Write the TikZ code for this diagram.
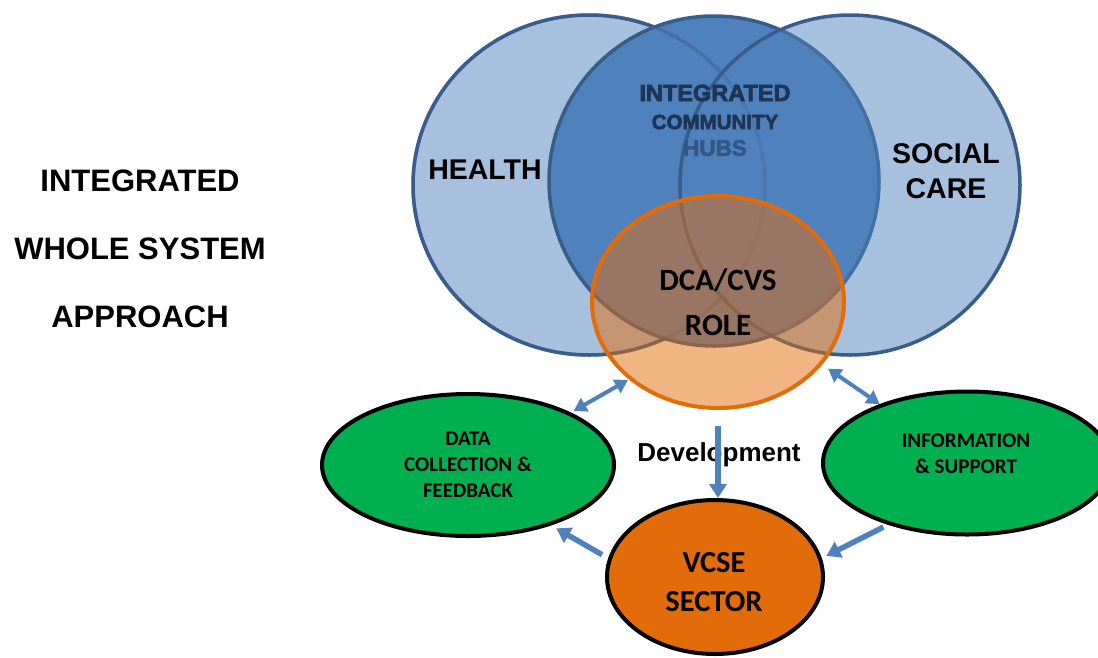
\documentclass[tikz,border=0pt]{standalone}
\usepackage{fontspec}
\setmainfont{Liberation Sans}
\newfontfamily\calfont{Carlito}
\newfontfamily\blackfont{Liberation Sans}[BoldFeatures={FakeBold=3}]
\usetikzlibrary{arrows.meta,shapes.geometric}

\definecolor{hubblue}{HTML}{4F81BD}
\definecolor{ringblue}{HTML}{385D8A}
\definecolor{hubtext}{HTML}{1F3557}
\definecolor{hubtextlt}{HTML}{345886}
\definecolor{cvsorange}{HTML}{E36C0A}
\definecolor{vcsegreen}{HTML}{00B050}

\begin{document}
\begin{tikzpicture}[
  x=1pt, y=-1pt,
  ring/.style={ellipse, inner sep=0pt, line width=3.5pt, draw=ringblue},
  blob/.style={ellipse, inner sep=0pt, line width=4pt, draw=black, align=center},
  headtxt/.style={font=\bfseries\fontsize{31}{68}\selectfont, align=center},
  sectortxt/.style={font=\bfseries\fontsize{28.5}{35}\selectfont, align=center},
  hubtxt/.style={inner sep=0pt},
  smalltxt/.style={font=\calfont\bfseries\fontsize{21}{26}\selectfont, align=center},
  arr/.style={-{Triangle[length=14pt,width=17pt]}, line width=5.5pt, draw=hubblue},
  dblarr/.style={{Triangle[length=13pt,width=15pt]}-{Triangle[length=13pt,width=15pt]},
    line width=4pt, draw=hubblue}
]
\useasboundingbox (0,0) rectangle (1098,657);
\clip (0,0) rectangle (1098,657);

% left heading
\node[headtxt] (approach) at (140,249) {INTEGRATED\\WHOLE SYSTEM\\APPROACH};

% the three overlapping circles
\node[ring, fill=hubblue!50, minimum width=352pt, minimum height=340pt] (health) at (589,185) {};
\node[ring, fill=hubblue, minimum size=330pt] (hubs) at (714,181) {};
\node[ring, fill=none, draw opacity=.45, minimum width=352pt, minimum height=340pt] (healthrim) at (589,185) {};
\node[ring, fill=hubblue, fill opacity=.5, minimum size=340pt] (social) at (850,185) {};

\node[hubtxt, text=hubtext, font=\blackfont\bfseries\fontsize{23.5}{26}\selectfont] (hubsa) at (715,93) {INTEGRATED};
\node[hubtxt, text=hubtext, font=\blackfont\bfseries\fontsize{20.5}{22}\selectfont] (hubsb) at (715,122) {COMMUNITY};
\node[hubtxt, text=hubtextlt, font=\blackfont\bfseries\fontsize{22.5}{24}\selectfont] (hubsc) at (715,148) {HUBS};

\node[sectortxt] (healthlbl) at (485,170) {HEALTH};
\node[sectortxt] (sociallbl) at (946,171) {SOCIAL\\CARE};

% central role
\node[ellipse, inner sep=0pt, fill=cvsorange, fill opacity=.5, text opacity=1,
  draw=cvsorange, line width=4pt, minimum width=252pt, minimum height=212pt,
  font=\calfont\bfseries\fontsize{31}{45}\selectfont, align=center] (role) at (718,302) {DCA/CVS\\ROLE};

% outer ring of partners
\node[blob, fill=vcsegreen, smalltxt, minimum width=292pt, minimum height=142pt] (data) at (468,465) {DATA\\COLLECTION \&\\FEEDBACK};
\node[blob, fill=vcsegreen, minimum width=288pt, minimum height=143pt] (info) at (967,463) {};
\node[smalltxt] (infolbl) at (966,454) {INFORMATION\\\& SUPPORT};
\node[blob, fill=cvsorange, minimum width=216pt, minimum height=154pt] (vcse) at (715,577) {};
\node[font=\calfont\bfseries\fontsize{30.5}{39}\selectfont, align=center] (vcselbl) at (714,582) {VCSE\\SECTOR};

\node[font=\bfseries\fontsize{26}{30}\selectfont] (dev) at (719,455) {Development};

% connectors
\draw[dblarr, shorten <=3pt, shorten >=1pt] (data.27) -- (role.221);
\draw[dblarr, shorten <=7pt] (role.-31) -- (info.146);
\draw[arr, shorten <=16pt] (role.south) -- (role.south |- vcse.north);
\draw[arr, shorten <=7pt, shorten >=6pt] (vcse.170) -- (data.-36);
\draw[arr, shorten <=5pt, shorten >=5pt] (info.218) -- (vcse.10);
\end{tikzpicture}
\end{document}
